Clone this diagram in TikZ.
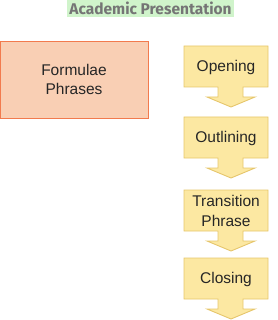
\documentclass[tikz,border=0pt]{standalone}
\usepackage{fontspec}
\setmainfont{Liberation Sans}
\newfontfamily\titlefont{Fira Sans}
\definecolor{titlebg}{HTML}{D0F4CB}
\definecolor{titlefg}{HTML}{757575}
\definecolor{formfill}{HTML}{F9CFB4}
\definecolor{formline}{HTML}{F27B4E}
\definecolor{stepfill}{HTML}{FCE8A2}
\definecolor{stepline}{HTML}{E6C66C}
\begin{document}
\begin{tikzpicture}[x=1pt,y=-1pt,
  titlebox/.style={fill=titlebg,text=titlefg,inner sep=0pt,minimum width=167pt,minimum height=17pt,font=\titlefont\bfseries\fontsize{15.5}{17}\selectfont},
  formbox/.style={draw=formline,fill=formfill,line width=0.9pt,minimum width=148pt,minimum height=77pt,align=center,font=\fontsize{15.5}{19.5}\selectfont,text=black!85},
  stepshape/.style={draw=stepline,fill=stepfill,line width=0.9pt,line join=miter},
  steptext/.style={align=center,inner sep=0pt,font=\fontsize{15.5}{19.5}\selectfont,text=black!85}]
\useasboundingbox (0,0) rectangle (277,320);
\node[titlebox] (title) at (150.5,8.5) {Academic Presentation};
\node[formbox] (formulae) at (74,79.5) {Formulae\\Phrases};
\foreach \t/\name/\txt in {46/opening/Opening,117/outlining/Outlining,190/transition/{Transition\\Phrase},258/closing/Closing}{
  \draw[stepshape] (184,\t) -- (268,\t) -- (268,\t+41) -- (243,\t+41) -- (243,\t+51) -- (255,\t+51) -- (231,\t+61) -- (207,\t+51) -- (218,\t+51) -- (218,\t+41) -- (184,\t+41) -- cycle;
  \node[steptext] (\name) at (226,\t+21) {\txt};
}
\end{tikzpicture}
\end{document}
